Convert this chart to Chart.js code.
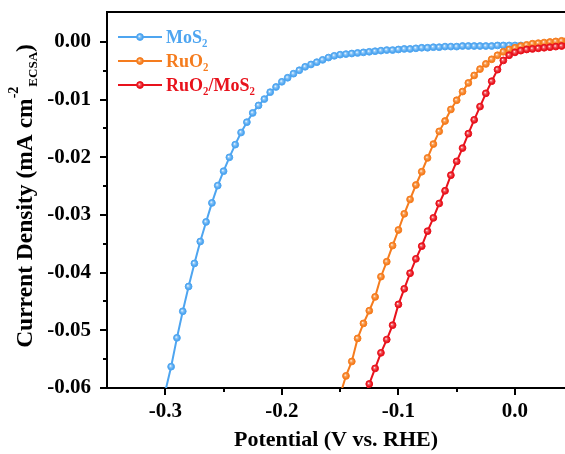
<!DOCTYPE html>
<html><head><meta charset="utf-8">
<script src="https://cdn.jsdelivr.net/npm/chart.js@4.4.1/dist/chart.umd.min.js"></script>
<style>html,body{margin:0;padding:0;background:#fff;}canvas{display:block;}</style>
</head><body>
<canvas id="c" width="565" height="454" style="width:565px;height:454px"></canvas>
<script>
// ---- data (potential V vs RHE, current density mA cm^-2 ECSA) ----
const seriesNames = ['MoS\u2082', 'RuO\u2082', 'RuO\u2082/MoS\u2082'];

const mos2V = [-0.300,-0.295,-0.290,-0.285,-0.280,-0.275,-0.270,-0.265,-0.260,-0.255,-0.250,-0.245,-0.240,-0.235,-0.230,-0.225,-0.220,-0.215,-0.210,-0.205,-0.200,-0.195,-0.190,-0.185,-0.180,-0.175,-0.170,-0.165,-0.160,-0.155,-0.150,-0.145,-0.140,-0.135,-0.130,-0.125,-0.120,-0.115,-0.110,-0.105,-0.100,-0.095,-0.090,-0.085,-0.080,-0.075,-0.070,-0.065,-0.060,-0.055,-0.050,-0.045,-0.040,-0.035,-0.030,-0.025,-0.020,-0.015,-0.010,-0.005,0.000,0.005];
const mos2J = [-0.0606,-0.0563,-0.0513,-0.0467,-0.0424,-0.0384,-0.0346,-0.0312,-0.0279,-0.0249,-0.0224,-0.0200,-0.0178,-0.0157,-0.0139,-0.0123,-0.0110,-0.0099,-0.0087,-0.0078,-0.0069,-0.0062,-0.0055,-0.0049,-0.0043,-0.0039,-0.0035,-0.0031,-0.0027,-0.0024,-0.0022,-0.0021,-0.0020,-0.0019,-0.0018,-0.0017,-0.0016,-0.0015,-0.0014,-0.0014,-0.0013,-0.0012,-0.0012,-0.0011,-0.0010,-0.0010,-0.0009,-0.0009,-0.0008,-0.0008,-0.0008,-0.0007,-0.0007,-0.0007,-0.0007,-0.0007,-0.0007,-0.0006,-0.0006,-0.0006,-0.0006,-0.0006];

const ruo2V = [-0.150,-0.145,-0.140,-0.135,-0.130,-0.125,-0.120,-0.115,-0.110,-0.105,-0.100,-0.095,-0.090,-0.085,-0.080,-0.075,-0.070,-0.065,-0.060,-0.055,-0.050,-0.045,-0.040,-0.035,-0.030,-0.025,-0.020,-0.015,-0.010,-0.005,0.000,0.005,0.010,0.015,0.020,0.025,0.030,0.035,0.040,0.045];
const ruo2J = [-0.0612,-0.0579,-0.0554,-0.0514,-0.0488,-0.0466,-0.0442,-0.0407,-0.0381,-0.0353,-0.0326,-0.0298,-0.0273,-0.0248,-0.0225,-0.0201,-0.0177,-0.0155,-0.0137,-0.0117,-0.0101,-0.0086,-0.0071,-0.0058,-0.0047,-0.0038,-0.0030,-0.0023,-0.0017,-0.0013,-0.0010,-0.0007,-0.0005,-0.0003,-0.0002,-0.0001,0.0000,0.0001,0.0002,0.0003];

const compV = [-0.130,-0.125,-0.120,-0.115,-0.110,-0.105,-0.100,-0.095,-0.090,-0.085,-0.080,-0.075,-0.070,-0.065,-0.060,-0.055,-0.050,-0.045,-0.040,-0.035,-0.030,-0.025,-0.020,-0.015,-0.010,-0.005,0.000,0.005,0.010,0.015,0.020,0.025,0.030,0.035,0.040,0.045];
const compJ = [-0.0620,-0.0593,-0.0566,-0.0539,-0.0516,-0.0491,-0.0455,-0.0428,-0.0401,-0.0376,-0.0354,-0.0328,-0.0305,-0.0280,-0.0258,-0.0231,-0.0207,-0.0184,-0.0159,-0.0135,-0.0112,-0.0089,-0.0068,-0.0048,-0.0032,-0.0023,-0.0018,-0.0015,-0.0013,-0.0012,-0.0011,-0.0010,-0.0009,-0.0008,-0.0007,-0.0006];

const xMajorTicks = [-0.3, -0.2, -0.1, 0.0];
const xMinorTicks = [-0.25, -0.15, -0.05];
const yMajorTicks = [0.00, -0.01, -0.02, -0.03, -0.04, -0.05, -0.06];
const yMinorTicks = [-0.005, -0.015, -0.025, -0.035, -0.045, -0.055];

const xTitle = 'Potential (V vs. RHE)';
const yTitleParts = ['Current Density (mA cm', '-2', 'ECSA', ')'];

// ---- styles ----
const colors = ['#4ea5f0', '#f57c1e', '#e8121c'];
const fills  = ['#8cc6f7', '#f9a35c', '#f25a60'];
const SERIF = '"Liberation Serif", "Times New Roman", serif';

const toPts = (vs, js) => vs.map((v, i) => ({x: v, y: js[i]}));
const series = [toPts(mos2V, mos2J), toPts(ruo2V, ruo2J), toPts(compV, compJ)];

function glossy(ctx2d, px, py, r, i) {
  if (!isFinite(px) || !isFinite(py)) return fills[i];
  const g = ctx2d.createRadialGradient(px - r * 0.25, py - r * 0.25, 0, px, py, r);
  g.addColorStop(0, '#ffffff');
  g.addColorStop(0.35, fills[i]);
  g.addColorStop(0.8, colors[i]);
  g.addColorStop(1, colors[i]);
  return g;
}

const frame = {
  id: 'frame',
  afterDraw(chart) {
    const {ctx, chartArea: a, scales: {x, y}} = chart;
    ctx.save();
    ctx.strokeStyle = '#000';
    ctx.lineWidth = 2;
    ctx.beginPath(); ctx.moveTo(a.left - 1, a.top); ctx.lineTo(a.right, a.top); ctx.stroke();
    ctx.lineWidth = 2;
    const seg = (x1, y1, x2, y2) => { ctx.beginPath(); ctx.moveTo(x1, y1); ctx.lineTo(x2, y2); ctx.stroke(); };
    xMajorTicks.forEach(v => { const p = Math.round(x.getPixelForValue(v)); seg(p, a.bottom, p, a.bottom + 7); });
    xMinorTicks.forEach(v => { const p = Math.round(x.getPixelForValue(v)); seg(p, a.bottom, p, a.bottom + 4); });
    yMajorTicks.forEach(v => { const p = Math.round(y.getPixelForValue(v)); seg(a.left, p, a.left - 7, p); });
    yMinorTicks.forEach(v => { const p = Math.round(y.getPixelForValue(v)); seg(a.left, p, a.left - 4, p); });

    // legend
    const rows = [37, 61, 85];
    ctx.font = 'bold 18px ' + SERIF;
    ctx.textBaseline = 'middle';
    ctx.textAlign = 'left';
    seriesNames.forEach((name, i) => {
      const yy = rows[i];
      ctx.strokeStyle = colors[i]; ctx.lineWidth = 2;
      seg(118, yy, 162, yy);
      ctx.beginPath(); ctx.arc(140, yy, 3.4, 0, Math.PI * 2);
      ctx.fillStyle = glossy(ctx, 140, yy, 3.4, i); ctx.fill(); ctx.lineWidth = 1; ctx.stroke();
      ctx.fillStyle = colors[i];
      ctx.fillText(name, 166, yy + 1);
    });

    // y title with super/subscript
    const fMain = 'bold 23.5px ' + SERIF, fSup = 'bold 14px ' + SERIF, fSub = 'bold 13px ' + SERIF;
    const parts = [
      {t: yTitleParts[0], f: fMain, dy: 0},
      {t: yTitleParts[1], f: fSup, dy: -14},
      {t: yTitleParts[2], f: fSub, dy: 5},
      {t: yTitleParts[3], f: fMain, dy: 0}
    ];
    let total = 0;
    parts.forEach(p => { ctx.font = p.f; p.w = ctx.measureText(p.t).width; total += p.w; });
    ctx.translate(32, 196);
    ctx.rotate(-Math.PI / 2);
    ctx.fillStyle = '#000';
    ctx.textBaseline = 'alphabetic';
    let cx = -total / 2;
    parts.forEach(p => { ctx.font = p.f; ctx.fillText(p.t, cx, p.dy); cx += p.w; });
    ctx.restore();
  }
};

new Chart(document.getElementById('c'), {
  type: 'line',
  data: {
    datasets: series.map((d, i) => ({
      label: seriesNames[i],
      data: d,
      borderColor: colors[i],
      backgroundColor: fills[i],
      borderWidth: 2,
      pointRadius: 3.4,
      pointBorderWidth: 1,
      pointBackgroundColor: c => {
        const ch = c.chart;
        if (!c.parsed || !ch.scales || !ch.scales.x || !ch.scales.y) return fills[i];
        const px = ch.scales.x.getPixelForValue(c.parsed.x);
        const py = ch.scales.y.getPixelForValue(c.parsed.y);
        return glossy(ch.ctx, px, py, 3.4, i);
      },
      pointBorderColor: colors[i],
      tension: 0,
      order: 3 - i,
      clip: 0
    }))
  },
  options: {
    responsive: false,
    animation: false,
    devicePixelRatio: 1,
    layout: {autoPadding: false, padding: {top: 12, left: 0, right: 0, bottom: 0}},
    plugins: {legend: {display: false}, tooltip: {enabled: false}},
    scales: {
      x: {
        type: 'linear',
        min: -0.35, max: 0.0429,
        afterFit: s => { s.height = 66; s.paddingLeft = 0; s.paddingRight = 0; },
        afterBuildTicks: s => { s.ticks = xMajorTicks.map(v => ({value: v})); },
        grid: {display: true, drawOnChartArea: false, drawTicks: false},
        border: {display: true, color: '#000', width: 2},
        ticks: {
          padding: 11, color: '#000',
          font: {family: SERIF, size: 21, weight: 'bold'},
          callback: v => Number(v).toFixed(1)
        },
        title: {display: true, text: xTitle, color: '#000', padding: {top: 0, bottom: 0},
                font: {family: SERIF, size: 22, weight: 'bold'}}
      },
      y: {
        type: 'linear',
        min: -0.06, max: 0.0052,
        afterFit: s => { s.width = 107; s.paddingTop = 0; s.paddingBottom = 0; },
        afterBuildTicks: s => { s.ticks = yMajorTicks.map(v => ({value: v})); },
        grid: {display: true, drawOnChartArea: false, drawTicks: false},
        border: {display: true, color: '#000', width: 2},
        ticks: {
          padding: 16, color: '#000',
          font: {family: SERIF, size: 21, weight: 'bold'},
          callback: v => Number(v).toFixed(2)
        }
      }
    }
  },
  plugins: [frame]
});
</script>
</body></html>
